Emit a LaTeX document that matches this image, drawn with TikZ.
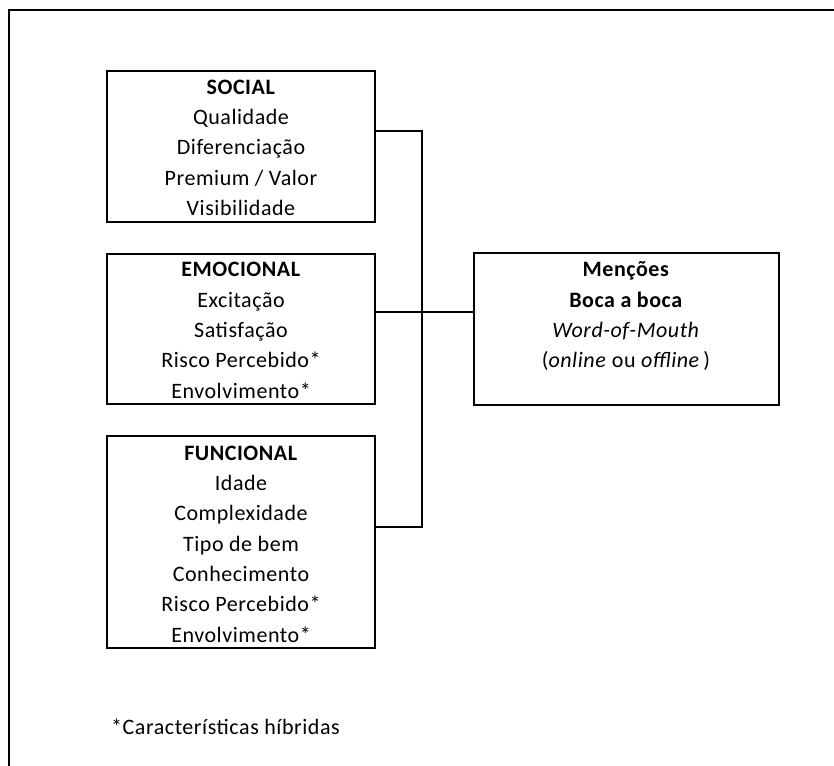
\documentclass[tikz,border=0pt]{standalone}
\usepackage{fontspec}
\setmainfont{Carlito}[LetterSpace=2.5]
\begin{document}
\begin{tikzpicture}[x=1pt,y=-1pt,
  box/.style={draw,line width=2pt,rectangle,inner sep=0pt},
  txt/.style={anchor=north,inner sep=0pt,align=center,font=\fontsize{22}{30.3}\selectfont},
  conn/.style={line width=2pt}]
\useasboundingbox (0,0) rectangle (834,765);
% frame
\draw[line width=2pt,line cap=rect] (9,766) -- (9,10) -- (835,10);
% boxes
\node[box,minimum width=268pt,minimum height=151pt] (soc) at (241,146.5) {};
\node[box,minimum width=268pt,minimum height=150pt] (emo) at (241,329) {};
\node[box,minimum width=268pt,minimum height=212pt] (fun) at (241,542) {};
\node[box,minimum width=305pt,minimum height=152pt] (men) at (626.5,329) {};
% texts
\node[txt] (soct) at (241,77) {\rule{0pt}{17pt}\textbf{SOCIAL}\\Qualidade\\Diferenciação\\Premium / Valor\\Visibilidade};
\node[txt] (emot) at (241,259.7) {\rule{0pt}{17pt}\textbf{EMOCIONAL}\\Excitação\\Satisfação\\Risco Percebido*\\Envolvimento*};
\node[txt] (funt) at (241,443) {\rule{0pt}{17pt}\textbf{FUNCIONAL}\\Idade\\Complexidade\\Tipo de bem\\Conhecimento\\Risco Percebido*\\Envolvimento*};
\node[txt] (ment) at (626,259.7) {\rule{0pt}{17pt}\textbf{Menções}\\\textbf{Boca a boca}\\\textit{Word-of-Mouth}\\(\textit{online} ou \textit{offline}\,)};
\node[anchor=base west,inner sep=0pt,font=\fontsize{22}{30.3}\selectfont] (note) at (111,734) {*Características híbridas};
% connectors
\coordinate (jtop) at (422,131);
\coordinate (jmid) at (422,312);
\coordinate (jbot) at (422,526.5);
\draw[conn] (soc.east |- jtop) -- (jtop) -- (jbot) -- (fun.east |- jbot);
\draw[conn] (emo.east |- jmid) -- (men.west |- jmid);
\end{tikzpicture}
\end{document}
